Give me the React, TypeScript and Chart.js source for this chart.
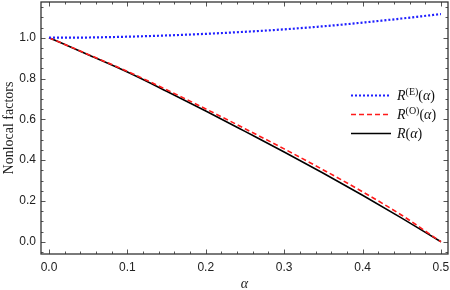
import React, { useEffect, useRef } from "react";
import { Chart, registerables } from "chart.js";

Chart.register(...registerables);

const alphaValues = [0, 0.05, 0.1, 0.15, 0.2, 0.25, 0.3, 0.35, 0.4, 0.45, 0.5];
const rEven = [1.0, 1.001, 1.005, 1.011, 1.019, 1.029, 1.041, 1.056, 1.074, 1.094, 1.116];
const rOdd = [1.0, 0.918, 0.835, 0.745, 0.651, 0.554, 0.455, 0.352, 0.245, 0.13, 0.0];
const rTotal = [1.0, 0.917, 0.832, 0.738, 0.641, 0.541, 0.44, 0.336, 0.228, 0.116, 0.0];

const xTickValues = [0, 0.1, 0.2, 0.3, 0.4, 0.5];
const xTickLabels = ["0.0", "0.1", "0.2", "0.3", "0.4", "0.5"];
const yTickValues = [0, 0.2, 0.4, 0.6, 0.8, 1.0];
const yTickLabels = ["0.0", "0.2", "0.4", "0.6", "0.8", "1.0"];

const seriesNames = ["E", "O", ""];

const X_MIN = -0.0102;
const X_MAX = 0.509;
const Y_MIN = -0.06;
const Y_MAX = 1.175;
const X_MINOR = 0.02;
const Y_MINOR = 0.05;

const toPoints = (ys: number[]) => alphaValues.map((a, i) => ({ x: a, y: ys[i] }));

const framePlugin = {
  id: "mmaFrame",
  afterDatasetsDraw(chart: any) {
    const { ctx, chartArea: ca, scales } = chart;
    const xs = scales.x;
    const ys = scales.y;
    ctx.save();
    ctx.strokeStyle = "#555";
    ctx.lineWidth = 1;
    const drawX = (v: number, len: number) => {
      const px = Math.round(xs.getPixelForValue(v)) + 0.5;
      ctx.beginPath();
      ctx.moveTo(px, ca.bottom);
      ctx.lineTo(px, ca.bottom - len);
      ctx.moveTo(px, ca.top);
      ctx.lineTo(px, ca.top + len);
      ctx.stroke();
    };
    const drawY = (v: number, len: number) => {
      const py = Math.round(ys.getPixelForValue(v)) + 0.5;
      ctx.beginPath();
      ctx.moveTo(ca.left, py);
      ctx.lineTo(ca.left + len, py);
      ctx.moveTo(ca.right, py);
      ctx.lineTo(ca.right - len, py);
      ctx.stroke();
    };
    for (let k = Math.ceil(X_MIN / X_MINOR); k * X_MINOR <= X_MAX; k++) {
      drawX(k * X_MINOR, k % 5 === 0 ? 4.5 : 2.5);
    }
    for (let k = Math.ceil(Y_MIN / Y_MINOR); k * Y_MINOR <= Y_MAX; k++) {
      drawY(k * Y_MINOR, k % 4 === 0 ? 4.5 : 2.5);
    }
    ctx.strokeStyle = "#333";
    ctx.lineWidth = 1.3;
    ctx.strokeRect(ca.left, ca.top, ca.right - ca.left, ca.bottom - ca.top);
    ctx.restore();
  },
  afterDraw(chart: any) {
    const { ctx } = chart;
    const x0 = 351;
    const x1 = 391;
    const rows = [95, 114, 133];
    ctx.save();
    chart.data.datasets.forEach((ds: any, i: number) => {
      const y = rows[i];
      ctx.strokeStyle = ds.borderColor;
      ctx.lineWidth = ds.borderWidth;
      ctx.setLineDash(ds.borderDash || []);
      ctx.beginPath();
      ctx.moveTo(x0, y + 0.5);
      ctx.lineTo(x1, y + 0.5);
      ctx.stroke();
      ctx.setLineDash([]);
      ctx.fillStyle = "#111";
      ctx.textBaseline = "alphabetic";
      let tx = 397;
      const base = y + 4.5;
      ctx.font = "italic 14px 'Liberation Serif', serif";
      ctx.fillText("R", tx, base);
      tx += ctx.measureText("R").width;
      const sup = seriesNames[i];
      if (sup) {
        ctx.font = "10px 'Liberation Serif', serif";
        const s = "(" + sup + ")";
        ctx.fillText(s, tx, base - 5);
        tx += ctx.measureText(s).width;
      }
      ctx.font = "14px 'Liberation Serif', serif";
      ctx.fillText("(", tx, base);
      tx += ctx.measureText("(").width;
      ctx.font = "italic 14px 'Liberation Serif', serif";
      ctx.fillText("α", tx, base);
      tx += ctx.measureText("α").width;
      ctx.font = "14px 'Liberation Serif', serif";
      ctx.fillText(")", tx, base);
    });
    ctx.restore();
  },
};

export default function App() {
  const ref = useRef<HTMLCanvasElement | null>(null);
  useEffect(() => {
    if (!ref.current) return;
    const chart = new Chart(ref.current, {
      type: "line",
      data: {
        datasets: [
          {
            label: "R(E)(α)",
            data: toPoints(rEven),
            borderColor: "#1f1fff",
            borderWidth: 2.2,
            borderDash: [2, 2],
            pointRadius: 0,
            cubicInterpolationMode: "monotone",
            fill: false,
          },
          {
            label: "R(O)(α)",
            data: toPoints(rOdd),
            borderColor: "#ff1a1a",
            borderWidth: 1.6,
            borderDash: [5, 3],
            pointRadius: 0,
            cubicInterpolationMode: "monotone",
            fill: false,
          },
          {
            label: "R(α)",
            data: toPoints(rTotal),
            borderColor: "#000000",
            borderWidth: 1.6,
            pointRadius: 0,
            cubicInterpolationMode: "monotone",
            fill: false,
          },
        ],
      },
      options: {
        responsive: false,
        animation: false,
        layout: { padding: { top: 2, right: 2, left: 0, bottom: 0 } },
        plugins: { legend: { display: false }, tooltip: { enabled: false } },
        scales: {
          x: {
            type: "linear",
            min: X_MIN,
            max: X_MAX,
            grid: { display: false, drawTicks: false },
            border: { display: false },
            afterBuildTicks: (s: any) => {
              s.ticks = xTickValues.map((v) => ({ value: v }));
            },
            afterFit: (s: any) => {
              s.height = 36;
              s.paddingLeft = 0;
              s.paddingRight = 0;
            },
            ticks: {
              padding: 6,
              color: "#222",
              font: { family: "'Liberation Sans', Arial, sans-serif", size: 12 },
              maxRotation: 0,
              callback: (v: any) => {
                const i = xTickValues.findIndex((t) => Math.abs(t - v) < 1e-9);
                return i >= 0 ? xTickLabels[i] : "";
              },
            },
            title: {
              display: true,
              text: "α",
              color: "#222",
              padding: { top: 0, bottom: -3 },
              font: { family: "'Liberation Serif', serif", size: 14, style: "italic" },
            },
          },
          y: {
            type: "linear",
            min: Y_MIN,
            max: Y_MAX,
            grid: { display: false, drawTicks: false },
            border: { display: false },
            afterBuildTicks: (s: any) => {
              s.ticks = yTickValues.map((v) => ({ value: v }));
            },
            afterFit: (s: any) => {
              s.width = 41;
              s.paddingTop = 0;
              s.paddingBottom = 0;
            },
            ticks: {
              padding: 5,
              color: "#222",
              font: { family: "'Liberation Sans', Arial, sans-serif", size: 12 },
              callback: (v: any) => {
                const i = yTickValues.findIndex((t) => Math.abs(t - v) < 1e-9);
                return i >= 0 ? yTickLabels[i] : "";
              },
            },
            title: {
              display: true,
              text: "Nonlocal factors",
              color: "#222",
              padding: { top: 1, bottom: 0 },
              font: { family: "'Liberation Serif', serif", size: 14 },
            },
          },
        },
      },
      plugins: [framePlugin],
    } as any);
    return () => chart.destroy();
  }, []);
  return (
    <div style={{ position: "fixed", left: 0, top: 0, width: 450, height: 290, background: "#fff" }}>
      <canvas ref={ref} width={450} height={290} style={{ display: "block" }} />
    </div>
  );
}
